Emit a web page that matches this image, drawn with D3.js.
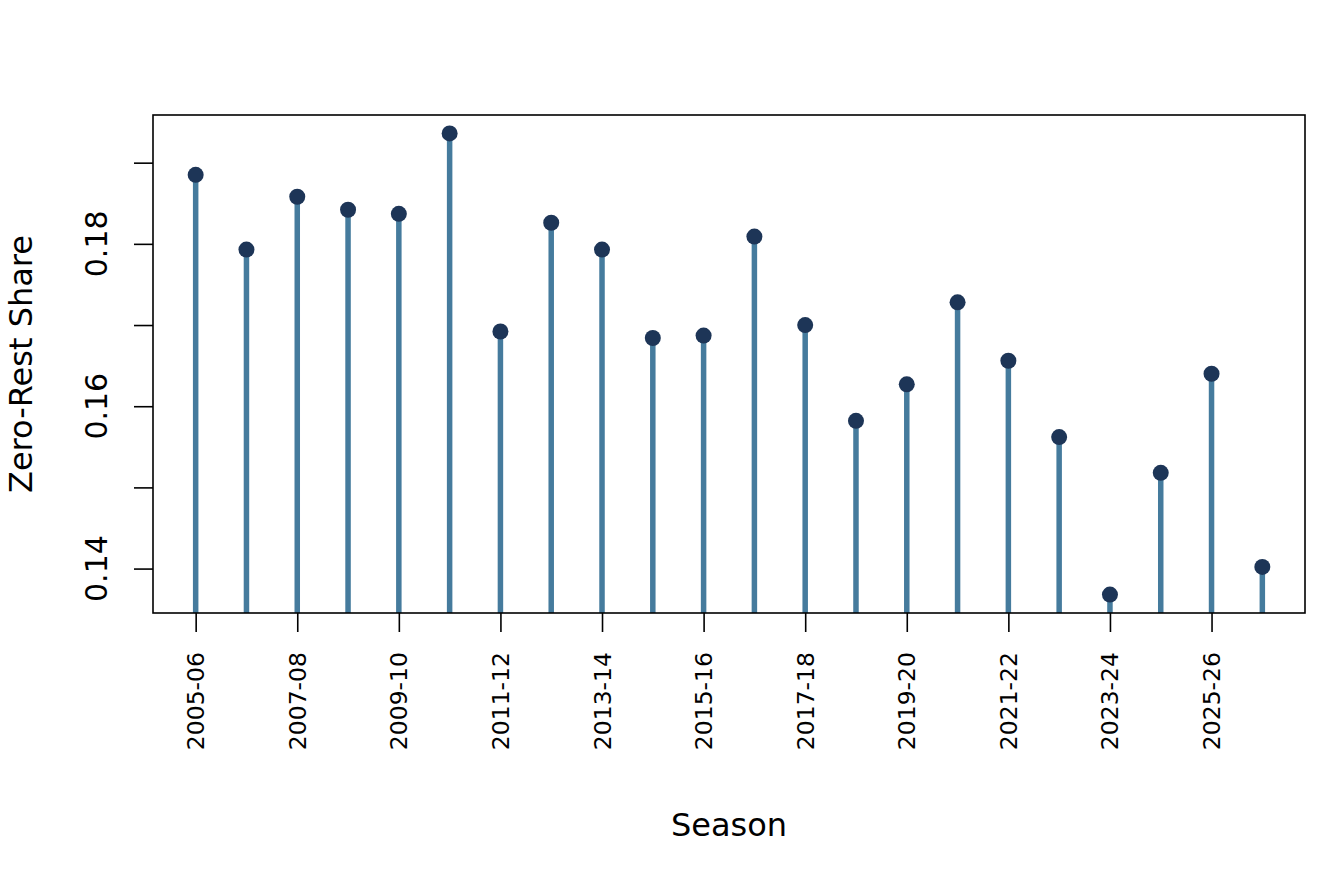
<!DOCTYPE html>
<html>
<head>
<meta charset="utf-8">
<script src="https://cdn.jsdelivr.net/npm/d3@7"></script>
<style>
  html, body { margin: 0; padding: 0; background: #fff; }
  svg { display: block; font-family: "DejaVu Sans", sans-serif; }
</style>
</head>
<body>
<svg id="chart" width="1344" height="883"></svg>
<script>
const seasons = ["2005-06","2006-07","2007-08","2008-09","2009-10","2010-11","2011-12","2012-13","2013-14","2014-15","2015-16","2016-17","2017-18","2018-19","2019-20","2020-21","2021-22","2022-23","2023-24","2024-25","2025-26","2026-27"];
const shares = [0.1885,0.1793,0.1858,0.1842,0.1837,0.1936,0.1692,0.1826,0.1793,0.1684,0.1687,0.1809,0.1700,0.1582,0.1627,0.1728,0.1656,0.1562,0.1368,0.1518,0.1640,0.1402];
const yTicks = [0.14,0.15,0.16,0.17,0.18,0.19];
const yTickLabels = ["0.14","","0.16","","0.18",""];
const xLabelEvery = 2;

const svg = d3.select("#chart");
const pLeft = 153, pRight = 1305, pTop = 115, pBottom = 613;

const n = seasons.length;
const xPad = (n - 1) * 0.04;
const x = d3.scaleLinear().domain([1 - xPad, n + xPad]).range([pLeft, pRight]);
const yMin = d3.min(shares), yMax = d3.max(shares);
const yPad = (yMax - yMin) * 0.04;
const y = d3.scaleLinear().domain([yMin - yPad, yMax + yPad]).range([pBottom, pTop]);

const lineCol = "#457B9D", ptCol = "#1D3557";

// stems
svg.append("g").selectAll("line").data(shares).join("line")
  .attr("x1", (d, i) => x(i + 1)).attr("x2", (d, i) => x(i + 1))
  .attr("y1", pBottom).attr("y2", d => y(d))
  .attr("stroke", lineCol).attr("stroke-width", 5.5);

// points
svg.append("g").selectAll("circle").data(shares).join("circle")
  .attr("cx", (d, i) => x(i + 1)).attr("cy", d => y(d))
  .attr("r", 8).attr("fill", ptCol);

// box
svg.append("rect").attr("x", pLeft).attr("y", pTop)
  .attr("width", pRight - pLeft).attr("height", pBottom - pTop)
  .attr("fill", "none").attr("stroke", "#000").attr("stroke-width", 1.6);

// y axis
const yAxis = d3.axisLeft(y).tickValues(yTicks).tickSize(19).tickFormat("");
const gy = svg.append("g").attr("transform", `translate(${pLeft},0)`).call(yAxis);
gy.select(".domain").remove();
gy.selectAll(".tick line").attr("stroke", "#000").attr("stroke-width", 1.6);
svg.append("g").selectAll("text").data(yTicks).join("text")
  .attr("transform", d => `translate(107,${y(d)}) rotate(-90)`)
  .attr("text-anchor", "middle").attr("font-size", 30).attr("fill", "#000")
  .text((d, i) => yTickLabels[i]);

// x axis
const xIdx = d3.range(1, n + 1).filter(i => (i - 1) % xLabelEvery === 0);
const xAxis = d3.axisBottom(x).tickValues(xIdx).tickSize(19).tickFormat("");
const gx = svg.append("g").attr("transform", `translate(0,${pBottom})`).call(xAxis);
gx.select(".domain").remove();
gx.selectAll(".tick line").attr("stroke", "#000").attr("stroke-width", 1.6);
svg.append("g").selectAll("text").data(xIdx).join("text")
  .attr("transform", d => `translate(${x(d) + 8.5},652) rotate(-90)`)
  .attr("text-anchor", "end").attr("font-size", 23.5).attr("fill", "#000")
  .text(d => seasons[d - 1]);

// titles
svg.append("text").attr("x", (pLeft + pRight) / 2).attr("y", 836)
  .attr("text-anchor", "middle").attr("font-size", 32).attr("fill", "#000")
  .text("Season");
svg.append("text").attr("transform", `translate(32,${(pTop + pBottom) / 2}) rotate(-90)`)
  .attr("text-anchor", "middle").attr("font-size", 32).attr("fill", "#000")
  .text("Zero-Rest Share");
</script>
</body>
</html>
